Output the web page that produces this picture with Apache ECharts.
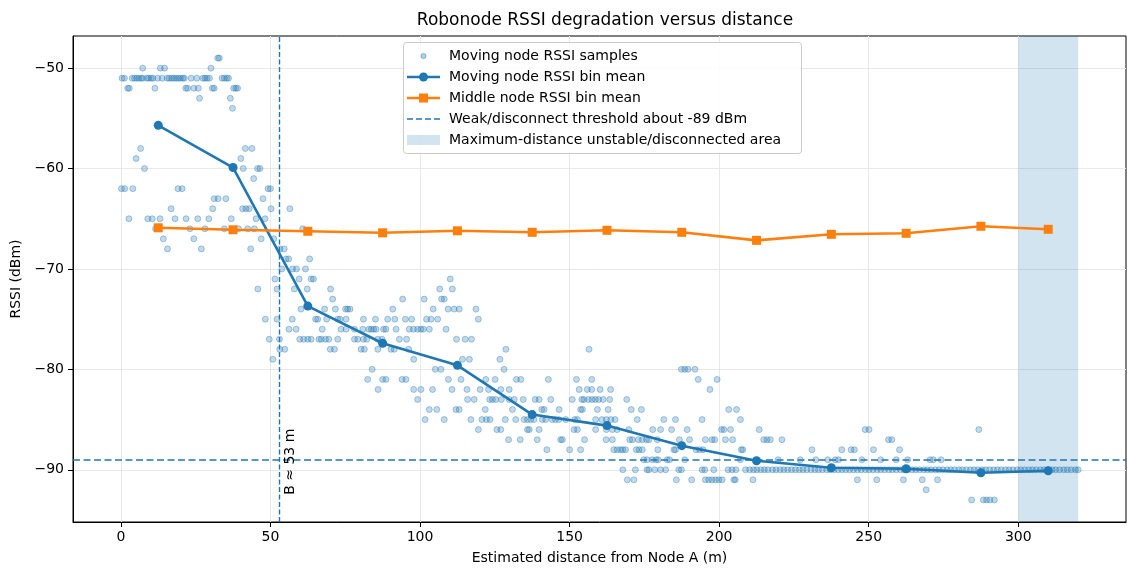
<!DOCTYPE html>
<html><head><meta charset="utf-8">
<script src="https://cdn.jsdelivr.net/npm/echarts@6/dist/echarts.min.js"></script>
<style>html,body{margin:0;padding:0;background:#fff}#c{width:1127px;height:570px}</style>
</head><body><div id="c"></div>
<script>
// ---- data ----
const binCenters = [12.5, 37.5, 62.5, 87.5, 112.5, 137.5, 162.5, 187.5, 212.5, 237.5, 262.5, 287.5, 310];
const movingMean = [-55.7, -59.9, -73.7, -77.4, -79.6, -84.5, -85.6, -87.6, -89.1, -89.8, -89.9, -90.3, -90.1];
const middleMean = [-65.9, -66.1, -66.25, -66.4, -66.2, -66.35, -66.15, -66.35, -67.15, -66.55, -66.45, -65.75, -66.05];
const thresholdDbm = -89;
const breakDistance = 53;
const unstableZone = [300, 320];
const xTicks = [0, 50, 100, 150, 200, 250, 300];
const yTicks = [-90, -80, -70, -60, -50];
// moving node samples, grouped by RSSI level: [rssi, [distances...]]
const sampleRows = [
  [-49, [32.4, 32.9]],
  [-50, [7.3, 13.2, 14.6, 30.1]],
  [-51, [0.4, 1.2, 3.8, 4.6, 5.3, 6.0, 6.8, 7.3, 8.7, 9.3, 10.1, 10.7, 12.3, 13.8, 15.5, 16.2, 17.0, 17.7, 18.5, 19.2, 19.9, 20.7, 21.2, 23.5, 25.4, 27.4, 28.1, 28.8, 29.6, 33.8, 34.6, 35.4, 36.0]],
  [-52, [2.3, 2.8, 11.4, 21.7, 22.3, 24.4, 25.9, 30.6, 31.2, 37.7, 38.4, 39.0]],
  [-53, [26.3, 36.6]],
  [-54, [37.3]],
  [-58, [6.6, 41.6, 43.8]],
  [-59, [5.1, 40.1]],
  [-60, [7.9, 40.9, 45.7, 46.5]],
  [-61, [44.4]],
  [-62, [0.2, 1.3, 4.0, 19.1, 20.5, 49.2, 50.0]],
  [-63, [31.2, 32.5, 35.1, 47.5]],
  [-64, [16.8, 30.7, 40.7, 41.8, 42.9, 50.2, 56.5]],
  [-65, [2.7, 9.0, 10.5, 13.1, 18.1, 21.8, 25.7, 29.4, 36.9, 45.2, 48.2]],
  [-66, [11.6, 23.1, 28.1, 34.6, 39.3, 42.4, 44.6, 60.8]],
  [-67, [14.2, 24.4, 46.9, 51.1]],
  [-68, [15.6, 26.9, 43.4, 53.2, 54.6]],
  [-69, [55.2, 56.1, 63.1]],
  [-70, [53.8, 57.4, 58.7, 61.7]],
  [-71, [51.5, 59.6, 63.6, 64.4, 110.1]],
  [-72, [45.8, 52.2, 58.0, 62.3, 70.1, 106.6, 110.8]],
  [-73, [70.8, 94.2, 101.4, 107.2, 108.1]],
  [-74, [60.2, 68.1, 71.7, 75.1, 75.8, 76.6, 90.9, 104.4, 109.4, 111.4, 113.1, 118.7]],
  [-75, [48.3, 52.2, 57.3, 65.1, 65.8, 68.8, 72.5, 73.3, 75.3, 81.1, 85.1, 89.2, 91.6, 95.1, 97.2, 102.2, 103.7, 105.9, 119.5]],
  [-76, [56.2, 58.6, 67.3, 73.6, 75.3, 78.1, 80.9, 82.9, 83.7, 84.5, 85.3, 87.8, 88.6, 92.0, 96.4, 97.8, 99.2, 100.3, 101.1, 103.1, 108.7]],
  [-77, [49.6, 53.0, 59.8, 61.1, 62.5, 63.6, 66.2, 67.0, 68.4, 69.5, 72.5, 78.1, 79.2, 81.1, 82.2, 85.9, 87.3, 93.1, 95.5, 112.2, 115.1, 117.2]],
  [-78, [53.1, 54.8, 70.0, 71.4, 80.3, 81.4, 85.9, 90.3, 91.4, 96.2, 128.7, 156.5]],
  [-79, [50.8, 97.9, 114.2, 116.5, 126.7]],
  [-80, [84.0, 105.1, 107.0, 128.1, 187.4, 188.5, 189.6, 191.9]],
  [-81, [82.5, 87.5, 88.6, 94.0, 95.3, 109.5, 113.7, 122.0, 125.1, 132.2, 133.7, 142.9, 152.3, 157.4, 193.0, 199.3]],
  [-82, [86.0, 97.9, 100.3, 104.2, 110.7, 115.7, 120.1, 122.9, 127.0, 129.8, 153.2, 155.9, 157.4, 160.2, 163.7, 196.9]],
  [-83, [99.2, 115.9, 118.1, 123.3, 124.2, 125.3, 127.2, 129.8, 131.5, 134.5, 138.5, 139.8, 143.7, 150.9, 154.1, 154.8, 156.3, 157.5, 158.6, 159.7, 161.2, 163.4, 169.1]],
  [-84, [103.1, 105.6, 112.0, 113.1, 121.8, 130.9, 140.7, 141.5, 146.5, 153.7, 154.3, 159.3, 162.9, 170.6, 174.0, 203.2, 205.8]],
  [-85, [101.7, 108.1, 117.0, 120.7, 122.2, 123.4, 128.5, 132.0, 134.8, 135.9, 137.0, 138.1, 140.9, 142.0, 144.2, 145.3, 146.4, 148.7, 151.7, 152.6, 158.7, 160.8, 162.3, 163.8, 165.2, 172.6, 181.5, 185.4, 194.3, 207.1]],
  [-86, [119.5, 125.7, 127.0, 135.9, 136.5, 139.8, 151.5, 152.6, 158.7, 162.3, 164.3, 165.9, 169.8, 177.8, 180.4, 184.1, 189.3, 200.8, 201.6, 203.8, 213.4, 248.8, 250.1, 286.8]],
  [-87, [129.6, 133.5, 139.2, 147.0, 147.6, 155.0, 162.2, 164.3, 170.1, 171.0, 173.0, 174.3, 175.7, 176.5, 179.3, 186.7, 190.1, 195.4, 197.6, 198.5, 202.1, 204.5, 214.9, 216.0, 217.1, 221.0, 256.6, 257.7]],
  [-88, [142.4, 150.0, 153.7, 164.8, 165.9, 167.0, 167.8, 168.7, 172.3, 173.2, 174.3, 179.5, 184.9, 185.4, 192.3, 193.4, 194.6, 207.4, 207.9, 231.0, 241.0, 244.1, 245.2, 251.6, 260.3]],
  [-89, [174.8, 175.9, 177.6, 178.9, 179.6, 182.6, 183.4, 188.5, 207.1, 219.7, 227.1, 232.3, 236.3, 238.8, 239.9, 247.7, 254.0, 259.2, 263.0, 270.5, 271.6, 274.2]],
  [-90, [167.8, 172.0, 175.9, 176.5, 178.5, 180.4, 182.1, 186.5, 187.4, 194.3, 195.2, 198.2, 203.0, 204.3, 205.6,
         208.8, 210.2, 211.5, 212.6, 213.9, 215.1, 216.3, 217.8, 219.0, 220.4, 221.6, 222.9, 224.2, 225.5, 226.8, 228.0,
         229.3, 230.7, 232.0, 233.2, 234.5, 235.9, 237.1, 238.4, 239.8, 241.0, 242.3, 243.6, 244.9, 246.2, 247.5, 248.9,
         250.1, 251.4, 252.8, 254.0, 255.3, 256.7, 257.9, 259.2, 260.6, 261.8, 263.1, 264.5, 265.7, 267.0, 268.4, 269.6,
         270.9, 272.3, 273.5, 274.8, 276.2, 277.4, 278.7, 280.1, 281.3, 282.6, 284.0, 285.2, 286.5, 287.9, 289.1, 290.4,
         291.8, 293.0, 294.3, 295.7, 296.9, 298.2, 299.6, 300.8, 302.1, 303.5, 304.7, 306.0, 307.4, 308.6, 309.9, 311.3,
         312.5, 313.8, 315.2, 316.4, 317.7, 319.1, 320.0]],
  [-91, [169.3, 171.5, 185.7, 190.8, 195.4, 196.5, 197.6, 198.8, 199.9, 201.0, 204.9, 205.4, 211.3, 246.2, 252.7, 261.6, 267.9, 273.0]],
  [-92, [269.2]],
  [-93, [284.4, 288.3, 289.4, 290.5, 292.0]]
];

// ---- build ----
const FONT = '"DejaVu Sans", sans-serif';
const BLUE = '#1f77b4', ORANGE = '#ff7f0e';
const sampleData = [];
sampleRows.forEach(([rssi, ds]) => ds.forEach(d => sampleData.push([d, rssi])));
const movingData = binCenters.map((x, i) => [x, movingMean[i]]);
const middleData = binCenters.map((x, i) => [x, middleMean[i]]);
const fmtNum = v => (v < 0 ? '\u2212' + Math.abs(v) : String(v));

const chart = echarts.init(document.getElementById('c'), null, {renderer: 'canvas'});
const option = {
  animation: false,
  backgroundColor: '#fff',
  textStyle: {fontFamily: FONT},
  title: {
    text: 'Robonode RSSI degradation versus distance',
    left: 600, top: 7, textAlign: 'center',
    textStyle: {fontFamily: FONT, fontSize: 17, fontWeight: 'normal', color: '#000'}
  },
  grid: {left: 73, right: 1, top: 36, bottom: 48, show: true, borderColor: '#000', borderWidth: 1,
         backgroundColor: 'transparent', containLabel: false, outerBoundsMode: 'none'},
  xAxis: {
    type: 'value', min: -16, max: 336, splitNumber: 7,
    name: 'Estimated distance from Node A (m)', nameLocation: 'middle', nameGap: 29,
    nameTextStyle: {fontFamily: FONT, fontSize: 14, color: '#000'},
    axisLine: {show: true, onZero: false, lineStyle: {color: '#000', width: 1}},
    axisTick: {show: true, length: 5, customValues: xTicks, lineStyle: {color: '#000', width: 1}},
    axisLabel: {customValues: xTicks, color: '#000', fontFamily: FONT, fontSize: 14, margin: 8, formatter: fmtNum},
    splitLine: {show: true, lineStyle: {color: '#e8e8e8', width: 1}}
  },
  yAxis: {
    type: 'value', min: -95.2, max: -46.8, splitNumber: 5,
    name: 'RSSI (dBm)', nameLocation: 'middle', nameGap: 43,
    nameTextStyle: {fontFamily: FONT, fontSize: 14, color: '#000'},
    axisLine: {show: true, onZero: false, lineStyle: {color: '#000', width: 1}},
    axisTick: {show: true, length: 5, customValues: yTicks, lineStyle: {color: '#000', width: 1}},
    axisLabel: {customValues: yTicks, color: '#000', fontFamily: FONT, fontSize: 14, margin: 9, formatter: fmtNum},
    splitLine: {show: true, lineStyle: {color: '#e8e8e8', width: 1}}
  },
  series: [
    {
      name: 'Maximum-distance unstable/disconnected area', type: 'line', data: [], silent: true, z: 1,
      markArea: {silent: true, itemStyle: {color: 'rgba(31,119,180,0.2)'},
                 data: [[{xAxis: unstableZone[0]}, {xAxis: unstableZone[1]}]]}
    },
    {
      name: 'Moving node RSSI samples', type: 'scatter', data: sampleData, symbol: 'circle', symbolSize: 6, z: 2,
      itemStyle: {color: 'rgba(31,119,180,0.35)', borderColor: 'rgba(31,119,180,0.45)', borderWidth: 1}
    },
    {
      name: 'Weak/disconnect threshold about -89 dBm', type: 'line', data: [], silent: true, z: 3,
      markLine: {silent: true, symbol: ['none', 'none'], label: {show: false},
        data: [
          {yAxis: thresholdDbm, lineStyle: {color: BLUE, width: 1.5, type: [7, 3.5], opacity: 1}},
          {xAxis: breakDistance, lineStyle: {color: BLUE, width: 1.4, type: [5, 2.5], opacity: 1}}
        ]}
    },
    {
      name: 'Moving node RSSI bin mean', type: 'line', data: movingData, z: 4,
      symbol: 'circle', symbolSize: 9, showSymbol: true,
      lineStyle: {color: BLUE, width: 2.6}, itemStyle: {color: BLUE}
    },
    {
      name: 'Middle node RSSI bin mean', type: 'line', data: middleData, z: 5,
      symbol: 'rect', symbolSize: 9, showSymbol: true,
      lineStyle: {color: ORANGE, width: 2.6}, itemStyle: {color: ORANGE}
    }
  ]
};
chart.setOption(option);

// annotation text next to the break line, placed through the axes
const bPos = chart.convertToPixel({gridIndex: 0}, [breakDistance + 3.8, -89.2]);

// legend (upper centre, matplotlib style)
const LX = 403, LY = 42, LW = 398, LH = 111, rowY = [56, 77, 98, 119, 140], iconL = 407, iconR = 440, iconC = 423.5, textX = 449;
const legendLabels = ['Moving node RSSI samples', 'Moving node RSSI bin mean', 'Middle node RSSI bin mean',
  'Weak/disconnect threshold about -89 dBm', 'Maximum-distance unstable/disconnected area'];
const g = [];
g.push({type: 'rect', shape: {x: LX + 0.5, y: LY + 0.5, width: LW, height: LH, r: 3},
  style: {fill: 'rgba(255,255,255,0.85)', stroke: '#cccccc', lineWidth: 1}, z: 100});
g.push({type: 'circle', shape: {cx: iconC, cy: rowY[0], r: 2.6},
  style: {fill: 'rgba(31,119,180,0.35)', stroke: 'rgba(31,119,180,0.45)', lineWidth: 1}, z: 101});
g.push({type: 'line', shape: {x1: iconL, y1: rowY[1], x2: iconR, y2: rowY[1]}, style: {stroke: BLUE, lineWidth: 2.6}, z: 101});
g.push({type: 'circle', shape: {cx: iconC, cy: rowY[1], r: 4.5}, style: {fill: BLUE}, z: 102});
g.push({type: 'line', shape: {x1: iconL, y1: rowY[2], x2: iconR, y2: rowY[2]}, style: {stroke: ORANGE, lineWidth: 2.6}, z: 101});
g.push({type: 'rect', shape: {x: iconC - 4.5, y: rowY[2] - 4.5, width: 9, height: 9}, style: {fill: ORANGE}, z: 102});
g.push({type: 'line', shape: {x1: iconL, y1: rowY[3], x2: iconR, y2: rowY[3]}, style: {stroke: BLUE, lineWidth: 1.5, lineDash: [6, 3]}, z: 101});
g.push({type: 'rect', shape: {x: iconL, y: rowY[4] - 5, width: iconR - iconL, height: 10}, style: {fill: 'rgba(31,119,180,0.2)'}, z: 101});
legendLabels.forEach((t, i) => g.push({type: 'text', x: textX, y: rowY[i],
  style: {text: t, fontFamily: FONT, fontSize: 14, fill: '#000', align: 'left', verticalAlign: 'middle'}, z: 103}));
g.push({type: 'text', x: bPos[0], y: bPos[1], rotation: Math.PI / 2,
  style: {text: 'B \u2248 53 m', fontFamily: FONT, fontSize: 14, fill: '#000', align: 'center', verticalAlign: 'middle'}, z: 50});
chart.setOption({graphic: g});
</script></body></html>
